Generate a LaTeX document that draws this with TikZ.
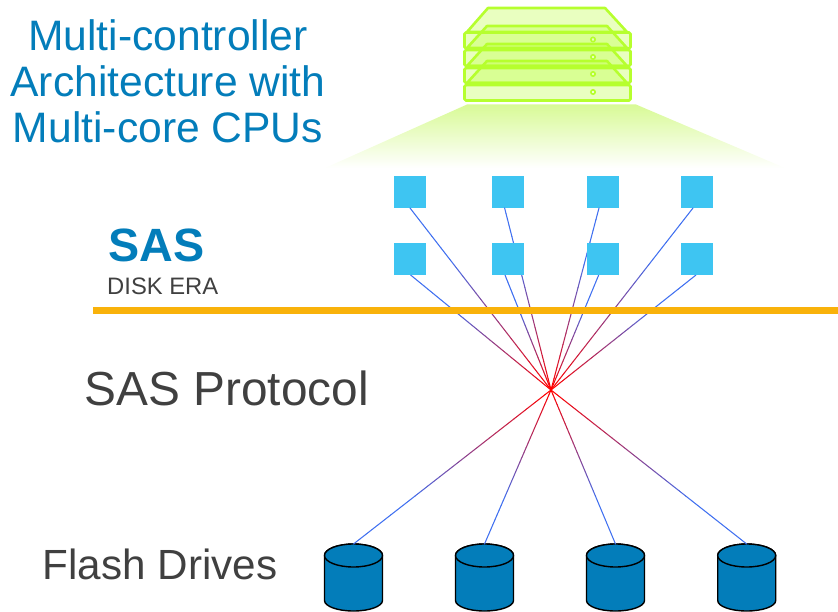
\documentclass[tikz,border=0pt]{standalone}
\usepackage{fontspec}
\setmainfont{Liberation Sans}
\usetikzlibrary{calc}
\definecolor{titleblue}{HTML}{037DBA}
\definecolor{textgray}{HTML}{404040}
\definecolor{squareblue}{HTML}{3EC5F2}
\definecolor{linkblue}{HTML}{4070F0}
\definecolor{linkred}{HTML}{FF0000}
\definecolor{barorange}{HTML}{F9B20A}
\definecolor{lime}{HTML}{B6FF2E}
\definecolor{glowtop}{HTML}{D8FA96}
\definecolor{glowmid}{HTML}{E4FBB5}
\tikzset{
  squarebox/.style={fill=squareblue,draw=none,minimum size=32pt,inner sep=0pt,outer sep=0pt,rectangle},
  linkseg/.style={line width=1.05pt,line cap=round},
  srvbox/.style={draw=lime,line width=2.8pt,fill=lime,fill opacity=0.3,rounded corners=1.5pt,line join=round},
  srvtop/.style={draw=lime,line width=2.6pt,fill=lime,fill opacity=0.3,line join=round},
  srvdot/.style={draw=lime,line width=1.6pt,fill=white,fill opacity=0.4},
  drive/.style={draw=black,line width=1.4pt,fill=titleblue},
  ttl/.style={font=\fontsize{42.6pt}{46pt}\selectfont,text=titleblue,anchor=base,inner sep=0pt},
  lbl/.style={text=textgray,anchor=base west,inner sep=0pt}
}
\newcommand{\gradlink}[2]{%
  \foreach \i in {1,...,32}{%
    \pgfmathsetmacro\ta{(\i-1)/32}%
    \pgfmathsetmacro\tb{\i/32}%
    \pgfmathsetmacro\pc{100*max(0,(\tb-0.3)/0.7)}%
    \draw[linkseg,color=linkred!\pc!linkblue] ($(#1)!\ta!(#2)$) -- ($(#1)!\tb!(#2)$);
  }%
}
\newcommand{\drivecan}[2]{%
  \draw[drive] (#1-29,555.5) -- (#1-29,600.5) arc[start angle=180,end angle=360,x radius=29pt,y radius=10.5pt] -- (#1+29,555.5) arc[start angle=0,end angle=180,x radius=29pt,y radius=11.5pt] -- cycle;
  \draw[drive] (#1,555.5) ellipse[x radius=29pt,y radius=11.5pt];
  \coordinate (#2) at (#1,544);
}
\begin{document}
\begin{tikzpicture}[x=1pt,y=-1pt]
\useasboundingbox (0,0) rectangle (838,612);
% glow
\shade[top color=glowtop,middle color=glowmid,bottom color=white] (467,104.5) -- (636,104.5) -- (785,168) -- (325,168) -- cycle;
% server
\draw[srvtop] (488,8) -- (605,8) -- (627,32) -- (467,32) -- cycle;
\draw[srvbox] (464.5,32.5) rectangle (630.5,48.5);
\draw[srvtop] (487,26) -- (607,26) -- (627,48) -- (467,48) -- cycle;
\draw[srvbox] (464.5,50) rectangle (630.5,66);
\draw[srvtop] (487,44) -- (607,44) -- (627,66) -- (467,66) -- cycle;
\draw[srvbox] (464.5,68) rectangle (630.5,83);
\draw[srvtop] (487,61) -- (607,61) -- (627,83) -- (467,83) -- cycle;
\draw[srvbox] (464.5,85) rectangle (630.5,100.5);
\foreach \yy in {39.5,57,74,92}{\draw[srvdot] (593,\yy) circle (2.2pt);}
% squares
\foreach \n/\xx/\yy in {a1/410/192,a2/508/192,a3/603/192,a4/697/192,b1/410/259,b2/508/259,b3/603/259,b4/697/259}{
  \node[squarebox] (\n) at (\xx,\yy) {};
}
\coordinate (hub) at (551,390);
\coordinate (pa1) at (a1.south);
\coordinate (pa2) at ([xshift=-3.4pt]a2.south);
\coordinate (pa3) at ([xshift=-4pt]a3.south);
\coordinate (pa4) at ([xshift=-4pt]a4.south);
\coordinate (pb1) at ([xshift=0.6pt]b1.south);
\coordinate (pb2) at ([xshift=-3pt]b2.south);
\coordinate (pb3) at ([xshift=-4.3pt]b3.south);
\coordinate (pb4) at ([xshift=-1pt]b4.south);
% drives
\drivecan{353.5}{d1}
\drivecan{484.5}{d2}
\drivecan{615.5}{d3}
\drivecan{746.7}{d4}
% links
\foreach \p in {pa1,pa2,pa3,pa4,pb1,pb2,pb3,pb4,d1,d2,d3,d4}{\gradlink{\p}{hub}}
% repaint squares over links
\foreach \n in {b1,b2,b3,b4}{
  \fill[squareblue] (\n.south west) rectangle (\n.north east);
}
% bar
\fill[barorange] (93,307.5) rectangle (838,313.7);
% text
\node[ttl] (t1) at (168,51) {Multi-controller};
\node[ttl] (t2) at (168,97) {Architecture with};
\node[ttl] (t3) at (168,143) {Multi-core CPUs};
\node[anchor=base west,inner sep=0pt,text=titleblue,font=\fontsize{46.7pt}{50pt}\selectfont\bfseries] (sas) at (108,262) {SAS};
\node[lbl,font=\fontsize{23.8pt}{26pt}\selectfont] (era) at (107,295) {DISK ERA};
\node[lbl,font=\fontsize{47.8pt}{50pt}\selectfont] (proto) at (84.5,405) {SAS Protocol};
\node[lbl,font=\fontsize{42.2pt}{46pt}\selectfont] (flash) at (42.5,579) {Flash Drives};
\end{tikzpicture}
\end{document}
